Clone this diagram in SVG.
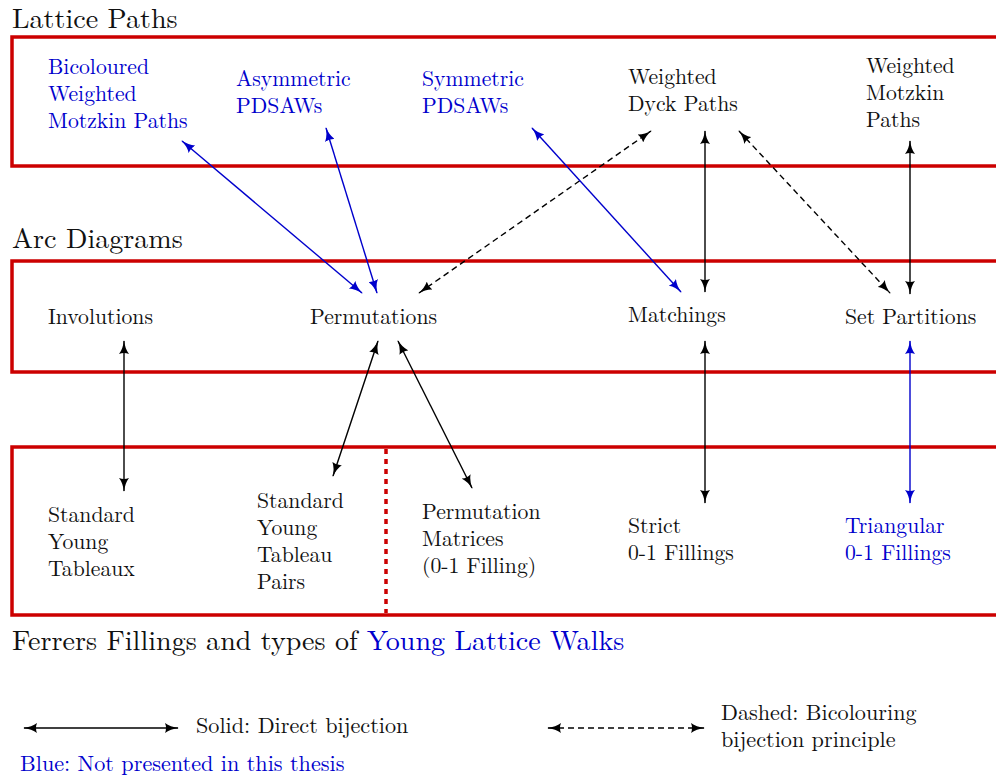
<svg xmlns="http://www.w3.org/2000/svg" width="996" height="776" viewBox="0 0 996 776" font-family="Latin Modern Roman, Liberation Serif, serif">
<style>
text{font-size:21.7px;fill:#111}
.t{font-size:28.1px}
.b{fill:#0000cc}
.lg{font-size:22.2px}
.box{fill:none;stroke:#cc0000;stroke-width:3.5}
.k{stroke:#000;stroke-width:1.4;fill:none;marker-start:url(#ak);marker-end:url(#ak)}
.u{stroke:#0000cc;stroke-width:1.4;fill:none;marker-start:url(#au);marker-end:url(#au)}
.d{stroke-dasharray:6 4}
</style>
<defs>
<marker id="ak" viewBox="0 0 14 10" refX="13" refY="5" markerWidth="14" markerHeight="10" markerUnits="userSpaceOnUse" orient="auto-start-reverse"><path d="M0,0 Q5,4 14,5 Q5,6 0,10 Q2,5 0,0z" fill="#000"/></marker>
<marker id="au" viewBox="0 0 14 10" refX="13" refY="5" markerWidth="14" markerHeight="10" markerUnits="userSpaceOnUse" orient="auto-start-reverse"><path d="M0,0 Q5,4 14,5 Q5,6 0,10 Q2,5 0,0z" fill="#0000cc"/></marker>
</defs>
<g id="frames">
<rect class="box" x="12" y="37" width="1000" height="129"/>
<rect class="box" x="12" y="261" width="1000" height="111"/>
<rect class="box" x="12" y="447" width="1000" height="168"/>
<line x1="386" y1="449" x2="386" y2="613" stroke="#cc0000" stroke-width="3.5" stroke-dasharray="5 5"/>
</g>
<g id="titles">
<text class="t" x="12" y="28">Lattice Paths</text>
<text class="t" x="12" y="248">Arc Diagrams</text>
<text class="t" x="12" y="650">Ferrers Fillings and types of <tspan class="b">Young Lattice Walks</tspan></text>
</g>
<g id="bicoloured-motzkin"><text class="b" x="48" y="74">Bicoloured</text><text class="b" x="48" y="101">Weighted</text><text class="b" x="48" y="128">Motzkin Paths</text></g>
<g id="asym-pdsaws"><text class="b" x="236" y="86">Asymmetric</text><text class="b" x="236" y="113">PDSAWs</text></g>
<g id="sym-pdsaws"><text class="b" x="422" y="86">Symmetric</text><text class="b" x="422" y="113">PDSAWs</text></g>
<g id="dyck"><text x="628" y="84">Weighted</text><text x="628" y="111">Dyck Paths</text></g>
<g id="motzkin"><text x="866" y="73">Weighted</text><text x="866" y="100">Motzkin</text><text x="866" y="127">Paths</text></g>
<g id="involutions"><text x="48" y="324">Involutions</text></g>
<g id="permutations"><text x="310" y="324">Permutations</text></g>
<g id="matchings"><text x="628" y="322">Matchings</text></g>
<g id="set-partitions"><text x="845" y="324">Set Partitions</text></g>
<g id="syt"><text x="48" y="522">Standard</text><text x="48" y="549">Young</text><text x="48" y="576">Tableaux</text></g>
<g id="syt-pairs"><text x="257" y="508">Standard</text><text x="257" y="535">Young</text><text x="257" y="562">Tableau</text><text x="257" y="589">Pairs</text></g>
<g id="perm-matrices"><text x="422" y="519">Permutation</text><text x="422" y="546">Matrices</text><text x="422" y="573">(0-1 Filling)</text></g>
<g id="strict"><text x="628" y="533">Strict</text><text x="628" y="560">0-1 Fillings</text></g>
<g id="triangular"><text class="b" x="845" y="533">Triangular</text><text class="b" x="845" y="560">0-1 Fillings</text></g>
<g id="connectors">
<line class="u" x1="182" y1="141" x2="362" y2="293"/>
<line class="u" x1="326" y1="128" x2="377" y2="293"/>
<line class="k d" x1="419" y1="293" x2="651" y2="131"/>
<line class="u" x1="532" y1="128" x2="681" y2="292"/>
<line class="k" x1="705" y1="131" x2="705" y2="292"/>
<line class="k d" x1="739" y1="131" x2="890" y2="293"/>
<line class="k" x1="910" y1="141" x2="910" y2="294"/>
<line class="k" x1="124" y1="341" x2="124" y2="491"/>
<line class="k" x1="378" y1="341" x2="333" y2="476"/>
<line class="k" x1="398" y1="341" x2="472" y2="488"/>
<line class="k" x1="705" y1="341" x2="705" y2="503"/>
<line class="u" x1="910" y1="341" x2="910" y2="503"/>
</g>
<g id="legend">
<line class="k" x1="24" y1="728" x2="178" y2="728"/>
<text class="lg" x="196" y="733">Solid: Direct bijection</text>
<line class="k d" x1="548" y1="728" x2="704" y2="728"/>
<text class="lg" x="721" y="720">Dashed: Bicolouring</text>
<text class="lg" x="721" y="747">bijection principle</text>
<text class="lg b" x="20" y="771">Blue: Not presented in this thesis</text>
</g>
</svg>
